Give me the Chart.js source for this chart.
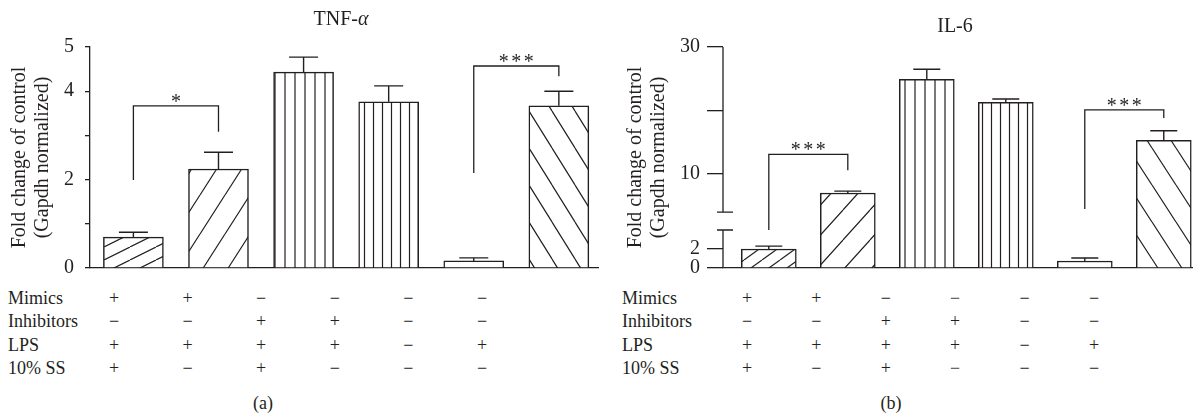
<!DOCTYPE html>
<html>
<head>
<meta charset="utf-8">
<script src="https://cdn.jsdelivr.net/npm/chart.js@4.4.1/dist/chart.umd.min.js"></script>
<style>
  html, body { margin: 0; padding: 0; background: #fff; }
  body { width: 1193px; height: 415px; position: relative; overflow: hidden;
         font-family: "Liberation Serif", "Times New Roman", serif; color: #231f20; }
  canvas { position: absolute; top: 0; }
  #cTnf { left: 0; }
  #cIl6 { left: 600px; }
  .t { position: absolute; white-space: nowrap; line-height: 1; }
</style>
</head>
<body>
<canvas id="cTnf" width="600" height="280"></canvas>
<canvas id="cIl6" width="593" height="280"></canvas>
<div id="labels"></div>
<script>
// ---- data ----
const conditionRows = ['Mimics', 'Inhibitors', 'LPS', '10% SS'];
const mimics     = ['+', '+', '\u2212', '\u2212', '\u2212', '\u2212'];
const inhibitors = ['\u2212', '\u2212', '+', '+', '\u2212', '\u2212'];
const lps        = ['+', '+', '+', '+', '\u2212', '+'];
const ss10       = ['+', '\u2212', '+', '\u2212', '\u2212', '\u2212'];

const tnfMean = [0.70, 2.24, 4.43, 3.76, 0.16, 3.67];
const tnfSem  = [0.11, 0.38, 0.34, 0.36, 0.07, 0.33];
const il6Mean = [2.0, 7.0, 24.9, 21.3, 0.74, 15.3];
const il6Sem  = [0.3, 0.3, 1.6, 0.5, 0.31, 1.5];

const tnfTicks      = [0, 1, 2, 3, 4, 5];
const tnfTickLabels = ['0', '', '2', '', '4', '5'];
const il6Ticks      = [0, 2, 10, 20, 30];
const il6TickLabels = ['0', '2', '10', '', '30'];

// significance brackets: bar indices, bracket height, leg ends, stars
const tnfSig = [
  { from: 0, to: 1, top: 3.67, left: 1.99, right: 3.08, label: '*' },
  { from: 4, to: 5, top: 4.57, left: 2.15, right: 4.34, label: '***' }
];
const il6Sig = [
  { from: 0, to: 1, top: 13.1, left: 4.0, right: 10.6, label: '***' },
  { from: 4, to: 5, top: 20.1, left: 4.5, right: 18.8, label: '***' }
];

// ---- styling ----
const INK = '#231f20';
const FONT = '"Liberation Serif", "Times New Roman", serif';

// IL-6 axis is broken above 4: lower part 0-4, upper part 4-30
const IL6_BREAK = { at: 4, lowerFrac: 0.172, upperFrac: 0.253 };

class BrokenLinearScale extends Chart.LinearScale {
  getPixelForValue(value) {
    if (value === null || value === undefined) return NaN;
    const b = IL6_BREAK;
    let dec;
    if (value <= b.at) dec = (value - this.min) / (b.at - this.min) * b.lowerFrac;
    else dec = b.upperFrac + (value - b.at) / (this.max - b.at) * (1 - b.upperFrac);
    return this.getPixelForDecimal(dec);
  }
  getValueForPixel(pixel) {
    const b = IL6_BREAK;
    const dec = this.getDecimalForPixel(pixel);
    if (dec <= b.lowerFrac) return this.min + dec / b.lowerFrac * (b.at - this.min);
    if (dec < b.upperFrac) return b.at;
    return b.at + (dec - b.upperFrac) / (1 - b.upperFrac) * (this.max - b.at);
  }
}
BrokenLinearScale.id = 'brokenLinear';
BrokenLinearScale.defaults = Chart.LinearScale.defaults;
Chart.register(BrokenLinearScale);

// hatch fills
function hatch(kind, w, h) {
  const c = document.createElement('canvas');
  c.width = w; c.height = h;
  const g = c.getContext('2d');
  g.fillStyle = '#fff';
  g.fillRect(0, 0, w, h);
  g.strokeStyle = INK;
  g.lineWidth = 1.2;
  g.beginPath();
  if (kind === 'vertical') {
    g.moveTo(w / 2, 0); g.lineTo(w / 2, h);
  } else if (kind === 'slash') {
    for (let k = -1; k <= 1; k++) { g.moveTo(k * w, h); g.lineTo(k * w + w, 0); }
  } else if (kind === 'backslash') {
    for (let k = -1; k <= 1; k++) { g.moveTo(k * w, 0); g.lineTo(k * w + w, h); }
  }
  g.stroke();
  return g.createPattern(c, 'repeat');
}

const tnfFills = [hatch('slash', 26, 13), hatch('slash', 25, 39), hatch('vertical', 10, 10),
                  hatch('vertical', 9, 10), '#ffffff', hatch('backslash', 23, 37)];
const il6Fills = [hatch('slash', 18, 13), hatch('slash', 27, 30), hatch('vertical', 10, 10),
                  hatch('vertical', 9, 10), '#ffffff', hatch('backslash', 24, 37)];

// error bars (upper) and significance brackets
function annotations(mean, sem, sig, cap) {
  return {
    id: 'annotations',
    afterDatasetsDraw(chart) {
      const ctx = chart.ctx;
      const x = chart.scales.x, y = chart.scales.y;
      const meta = chart.getDatasetMeta(0);
      ctx.save();
      ctx.strokeStyle = INK;
      ctx.lineWidth = 1.4;
      mean.forEach((m, i) => {
        const bx = meta.data[i].x;
        const y0 = y.getPixelForValue(m);
        const y1 = y.getPixelForValue(m + sem[i]);
        ctx.beginPath();
        ctx.moveTo(bx, y0); ctx.lineTo(bx, y1);
        ctx.moveTo(bx - cap / 2, y1); ctx.lineTo(bx + cap / 2, y1);
        ctx.stroke();
      });
      ctx.lineWidth = 1.3;
      ctx.font = '20px ' + FONT;
      ctx.fillStyle = INK;
      ctx.textAlign = 'center';
      ctx.textBaseline = 'alphabetic';
      const spacing = 2.5;
      ctx.letterSpacing = spacing + 'px';
      sig.forEach(s => {
        const xa = x.getPixelForValue(s.from), xb = x.getPixelForValue(s.to);
        const yt = y.getPixelForValue(s.top);
        ctx.beginPath();
        ctx.moveTo(xa, y.getPixelForValue(s.left));
        ctx.lineTo(xa, yt);
        ctx.lineTo(xb, yt);
        ctx.lineTo(xb, y.getPixelForValue(s.right));
        ctx.stroke();
        const mt = ctx.measureText(s.label);
        const cy = yt - 8;
        ctx.fillText(s.label, (xa + xb) / 2 + spacing / 2,
                     cy + (mt.actualBoundingBoxAscent - mt.actualBoundingBoxDescent) / 2);
      });
      ctx.restore();
    }
  };
}

// split axis line with break marks
const axisBreak = {
  id: 'axisBreak',
  afterDatasetsDraw(chart) {
    const ctx = chart.ctx, y = chart.scales.y;
    const ax = chart.chartArea.left;
    const lowTop = y.getPixelForValue(IL6_BREAK.at);
    const upBottom = y.getPixelForDecimal(IL6_BREAK.upperFrac);
    ctx.save();
    ctx.strokeStyle = INK;
    ctx.lineWidth = 1.3;
    ctx.beginPath();
    ctx.moveTo(ax, y.getPixelForValue(y.min)); ctx.lineTo(ax, lowTop);
    ctx.moveTo(ax, upBottom); ctx.lineTo(ax, y.getPixelForValue(y.max));
    ctx.moveTo(ax - 6, lowTop); ctx.lineTo(ax + 10, lowTop);
    ctx.moveTo(ax - 6, upBottom); ctx.lineTo(ax + 10, upBottom);
    ctx.stroke();
    ctx.restore();
  }
};

function makeChart(id, cfg) {
  const yTitle = ['Fold change of control', '(Gapdh normalized)'];
  return new Chart(document.getElementById(id), {
    type: 'bar',
    data: {
      datasets: [{
        data: cfg.mean.map((v, i) => ({ x: i, y: v })),
        backgroundColor: cfg.fills,
        borderColor: INK,
        borderWidth: 1.5,
        barThickness: cfg.barWidth
      }]
    },
    options: {
      responsive: false,
      animation: false,
      events: [],
      layout: { autoPadding: false, padding: { top: 47, bottom: 12, left: 0, right: cfg.padRight } },
      plugins: { legend: { display: false }, tooltip: { enabled: false }, title: { display: false } },
      scales: {
        x: {
          type: 'linear',
          offset: false,
          min: cfg.xMin, max: cfg.xMax,
          grid: { display: false, offset: false },
          ticks: { display: false },
          border: { display: true, color: INK, width: 1.3 },
          afterFit(s) { s.height = 0; s.paddingLeft = 0; s.paddingRight = 0; }
        },
        y: {
          type: cfg.yType,
          min: 0, max: cfg.yMax,
          afterFit(s) { s.width = cfg.axisWidth; s.paddingTop = 0; s.paddingBottom = 0; },
          afterBuildTicks(s) { s.ticks = cfg.ticks.map(v => ({ value: v })); },
          border: { display: cfg.yBorder, color: INK, width: 1.3 },
          grid: { drawOnChartArea: false, drawTicks: true, tickLength: cfg.tickLen, color: INK, lineWidth: 1.3 },
          ticks: {
            autoSkip: false,
            padding: cfg.tickPad,
            color: INK,
            font: { family: FONT, size: 20 },
            callback: (v) => cfg.tickLabels[cfg.ticks.indexOf(v)]
          },
          title: {
            display: true,
            text: yTitle,
            color: INK,
            font: { family: FONT, size: 20, lineHeight: 1.15 },
            padding: { top: cfg.titlePad, bottom: 0 }
          }
        }
      }
    },
    plugins: cfg.extraPlugins
  });
}

makeChart('cTnf', {
  mean: tnfMean, fills: tnfFills, barWidth: 60,
  xMin: -0.51, xMax: 5.46, padRight: 2,
  yType: 'linear', yMax: 5, yBorder: true, axisWidth: 90,
  ticks: tnfTicks, tickLabels: tnfTickLabels, tickLen: 5, tickPad: 11, titlePad: 8.5,
  extraPlugins: [annotations(tnfMean, tnfSem, tnfSig, 29)]
});

makeChart('cIl6', {
  mean: il6Mean, fills: il6Fills, barWidth: 55,
  xMin: -0.58, xMax: 5.37, padRight: 0,
  yType: 'brokenLinear', yMax: 30, yBorder: false, axisWidth: 123,
  ticks: il6Ticks, tickLabels: il6TickLabels, tickLen: 16, tickPad: 7, titlePad: 24.5,
  extraPlugins: [axisBreak, annotations(il6Mean, il6Sem, il6Sig, 27)]
});

// ---- titles, condition table, panel letters ----
const holder = document.getElementById('labels');
function place(html, x, baseline, size, align) {
  const d = document.createElement('div');
  d.className = 't';
  d.innerHTML = html;
  d.style.fontSize = size + 'px';
  d.style.top = (baseline - 0.8375 * size) + 'px';
  d.style.left = x + 'px';
  if (align === 'center') d.style.transform = 'translateX(-50%)';
  holder.appendChild(d);
}

place('TNF-<i>\u03b1</i>', 341, 25, 20, 'center');
place('IL-6', 955, 32, 20, 'center');

const rowsData = [mimics, inhibitors, lps, ss10];
const panels = [
  { labelX: 8, colStart: 114, colStep: 73.6, letter: '(a)', letterX: 263 },
  { labelX: 622, colStart: 747, colStep: 69.4, letter: '(b)', letterX: 891 }
];
panels.forEach(p => {
  conditionRows.forEach((name, r) => {
    const base = 304 + r * 23.3;
    place(name, p.labelX, base, 18, 'left');
    rowsData[r].forEach((sym, c) => place(sym, p.colStart + c * p.colStep, base, 18, 'center'));
  });
  place(p.letter, p.letterX, 409, 18, 'center');
});
</script>
</body>
</html>
